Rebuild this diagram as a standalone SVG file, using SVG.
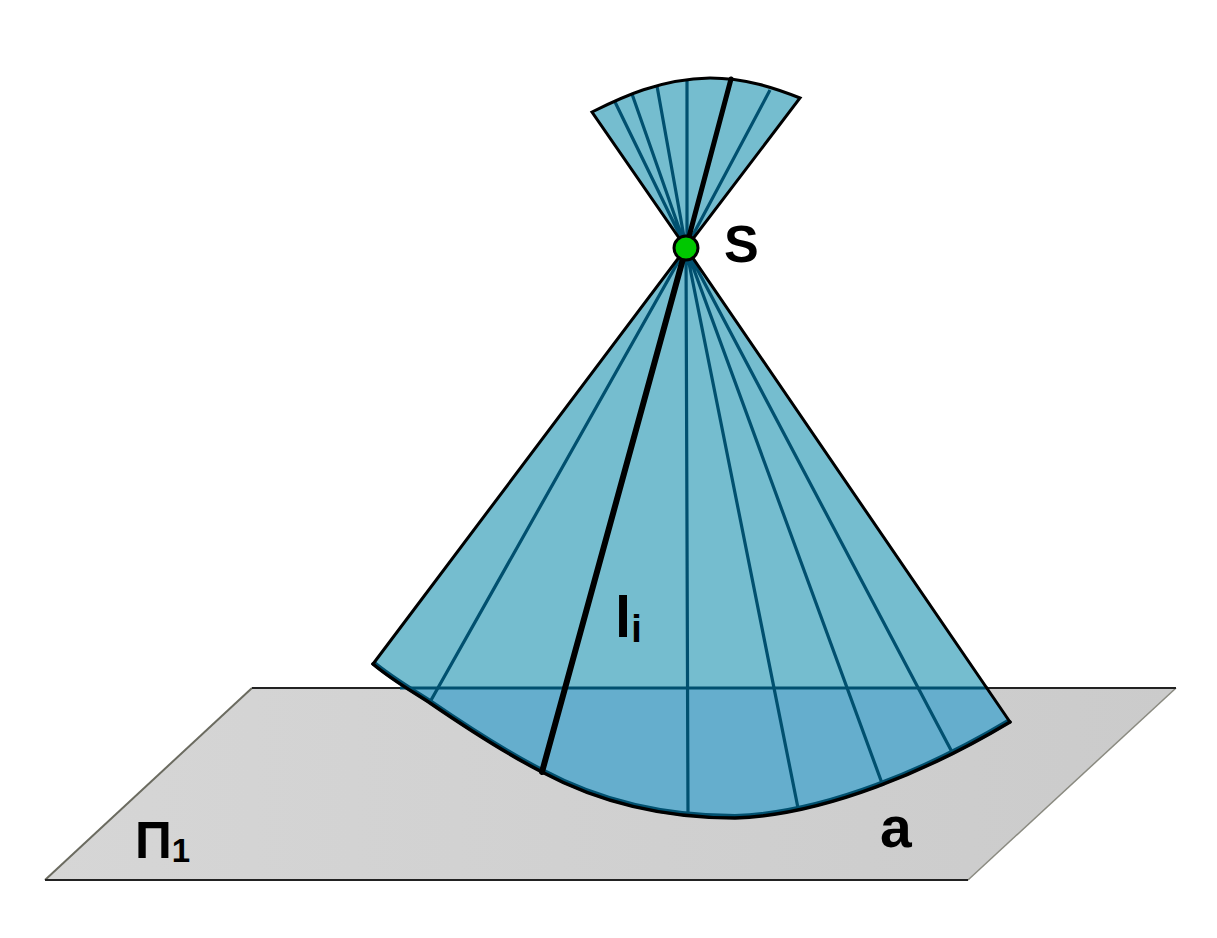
<svg xmlns="http://www.w3.org/2000/svg" width="1217" height="938" viewBox="0 0 1217 938">
<style>
.r{stroke:#01506f;stroke-width:3.2;fill:none}
.b{stroke:#000;fill:none;stroke-linecap:round}
.t{font-family:"Liberation Sans",Arial,sans-serif;font-weight:700;fill:#000}
</style>
<defs>
<linearGradient id="pg" x1="0" y1="0" x2="1" y2="0"><stop offset="0" stop-color="#d6d6d6"/><stop offset="1" stop-color="#cbcbcb"/></linearGradient>
<clipPath id="below"><rect x="0" y="688" width="1217" height="250"/></clipPath>
<path id="low" d="M373 664C392 680 410 690 430 703C468 729 505 753 542 772C600 803 665 818 735 818C825 815 930 770 1010 722L686 248Z"/>
<path id="lowarc" d="M373 664C392 680 410 690 430 703C468 729 505 753 542 772C600 803 665 818 735 818C825 815 930 770 1010 722"/>
</defs>
<g id="plane">
<path d="M252 688H1176L968 880H45Z" fill="url(#pg)"/>
<path d="M45 880L252 688" stroke="#6b6b60" stroke-width="2" fill="none"/>
<path d="M1176 688L968 880" stroke="#8a8a80" stroke-width="1.5" fill="none"/>
<path d="M252 688H1176M968 880H45" stroke="#222" stroke-width="2" fill="none"/>
</g>
<g id="upper-nappe">
<path d="M592 112C622 97 660 79 710 78C745 78 775 88 800 98L686 248Z" fill="#75bdcf"/>
<g id="upper-rulings">
<path class="r" d="M686 248L615 102M686 248L632 94M686 248L657 86M687 248V80M686 248L770 90"/>
</g>
<path class="b" stroke-width="3" d="M592 112C622 97 660 79 710 78C745 78 775 88 800 98L686 248L592 112Z"/>
<path class="b" stroke-width="5" d="M686 248L731 79"/>
</g>
<g id="lower-nappe">
<use href="#low" fill="#75bdcf"/>
<use href="#low" fill="#65aecd" clip-path="url(#below)"/>
<g id="lower-rulings">
<path class="r" d="M686 248L430 702M686 248L688 816M686 248L798 808M686 248L883 786M686 248L952 752"/>
<path class="r" stroke-width="2.5" d="M400 688H988"/>
</g>
<use href="#lowarc" fill="none" stroke="#01506f" stroke-width="5" transform="translate(0 -1.5)"/>
<path class="b" stroke-width="3" d="M373 664L686 248L1010 722"/>
<use href="#lowarc" class="b" stroke-width="3.5"/>
<path class="b" stroke-width="6" d="M686 248L542 772"/>
</g>
<g id="apex-S">
<circle cx="686" cy="248" r="12" fill="#00c800" stroke="#000" stroke-width="3"/>
<text class="t" x="724" y="262" font-size="52">S</text>
</g>
<g id="labels">
<text class="t" x="615" y="637" font-size="58">l<tspan font-size="38" dy="5">i</tspan></text>
<text class="t" x="880" y="847" font-size="57">a</text>
<text class="t" x="135" y="858" font-size="51">Π<tspan font-size="33" dy="4">1</tspan></text>
</g>
</svg>
